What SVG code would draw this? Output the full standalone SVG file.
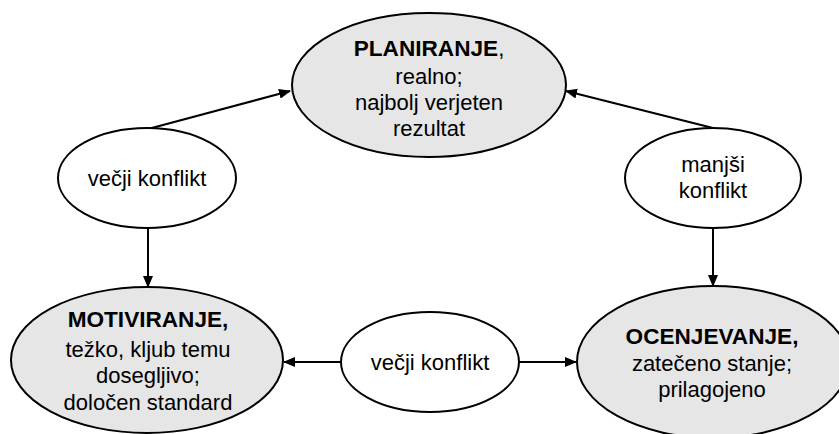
<svg xmlns="http://www.w3.org/2000/svg" width="839" height="434" viewBox="0 0 839 434">
  <style>
    text { font-family: "Liberation Sans", Arial, sans-serif; font-size: 22px; fill: #000; text-anchor: middle; }
    .b { font-weight: bold; font-size: 22.6px; }
    .main { fill: #e6e6e6; stroke: #000; stroke-width: 2; }
    .small { fill: #fff; stroke: #000; stroke-width: 2; }
    .edge { stroke: #000; stroke-width: 2; fill: none; marker-end: url(#arrow); }
  </style>
  <defs>
    <marker id="arrow" markerWidth="12" markerHeight="10" refX="11" refY="5" orient="auto" markerUnits="userSpaceOnUse">
      <path d="M0,0 L12,5 L0,10 Z" fill="#000"/>
    </marker>
  </defs>
  <rect width="839" height="434" fill="#fff"/>

  <g id="connectors">
    <line class="edge" x1="148" y1="129" x2="290" y2="91"/>
    <line class="edge" x1="713" y1="128" x2="566" y2="91"/>
    <line class="edge" x1="148" y1="228" x2="148" y2="287"/>
    <line class="edge" x1="713" y1="228" x2="713" y2="286"/>
    <line class="edge" x1="341" y1="362" x2="284" y2="362"/>
    <line class="edge" x1="519" y1="362" x2="576" y2="362"/>
  </g>

  <g id="planiranje">
    <ellipse class="main" cx="429" cy="85" rx="137" ry="72"/>
    <text x="429" y="56"><tspan class="b">PLANIRANJE</tspan>,</text>
    <text x="429" y="84">realno;</text>
    <text x="429" y="110">najbolj verjeten</text>
    <text x="429" y="136">rezultat</text>
  </g>

  <g id="vecji-konflikt-levo">
    <ellipse class="small" cx="147" cy="178" rx="89" ry="50"/>
    <text x="147" y="186">večji konflikt</text>
  </g>

  <g id="manjsi-konflikt">
    <ellipse class="small" cx="713" cy="178" rx="88" ry="50"/>
    <text x="713" y="172">manjši</text>
    <text x="713" y="198">konflikt</text>
  </g>

  <g id="motiviranje">
    <ellipse class="main" cx="147" cy="360" rx="136" ry="73"/>
    <text class="b" x="148" y="327">MOTIVIRANJE,</text>
    <text x="148" y="357">težko, kljub temu</text>
    <text x="148" y="383">dosegljivo;</text>
    <text x="148" y="410">določen standard</text>
  </g>

  <g id="vecji-konflikt-sredina">
    <ellipse class="small" cx="430" cy="362" rx="89" ry="50"/>
    <text x="430" y="370">večji konflikt</text>
  </g>

  <g id="ocenjevanje">
    <ellipse class="main" cx="713" cy="362" rx="136" ry="76"/>
    <text class="b" x="712" y="344">OCENJEVANJE,</text>
    <text x="712" y="371">zatečeno stanje;</text>
    <text x="712" y="397">prilagojeno</text>
  </g>
</svg>
